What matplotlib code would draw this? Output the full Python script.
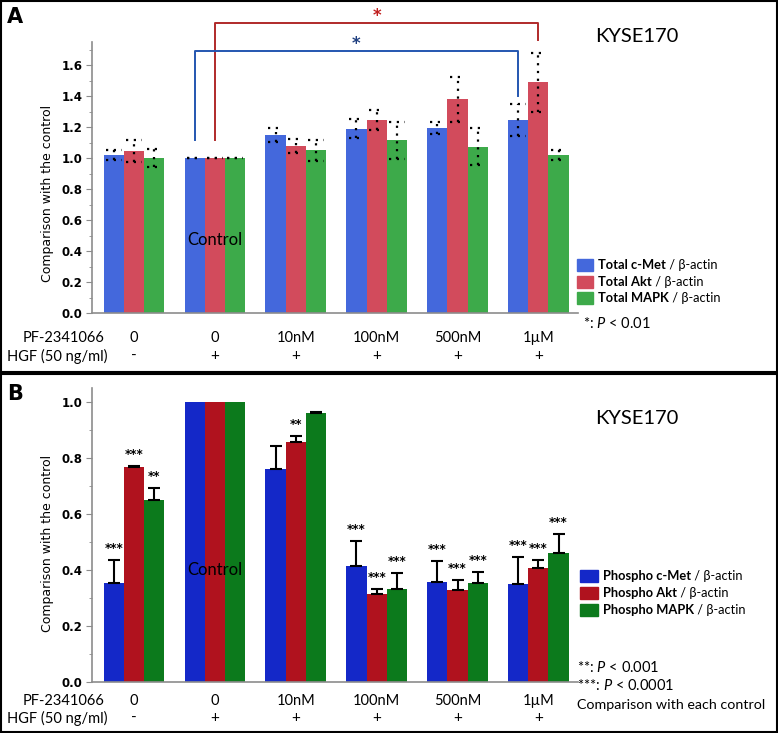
import numpy as np
import matplotlib.pyplot as plt
from matplotlib.patches import Rectangle
from matplotlib.text import Annotation
from matplotlib.ticker import MultipleLocator

plt.rcParams['mathtext.fontset'] = 'custom'
plt.rcParams['mathtext.rm'] = 'Lato'
plt.rcParams['mathtext.it'] = 'Lato:italic'
plt.rcParams['mathtext.bf'] = 'Lato:bold'

# Data
drug = ['0', '0', '10nM', '100nM', '500nM', '1\u00b5M']
hgf = ['-', '+', '+', '+', '+', '+']

# Panel A: total protein / beta-actin (mean, symmetric error)
tot_met = [1.02, 1.00, 1.15, 1.19, 1.195, 1.245]
tot_met_err = [0.03, 0.0, 0.045, 0.063, 0.04, 0.105]
tot_akt = [1.045, 1.00, 1.08, 1.245, 1.38, 1.49]
tot_akt_err = [0.07, 0.0, 0.045, 0.065, 0.145, 0.19]
tot_mapk = [1.00, 1.00, 1.05, 1.116, 1.075, 1.02]
tot_mapk_err = [0.06, 0.0, 0.07, 0.12, 0.12, 0.03]

# Panel B: phospho protein / beta-actin (mean, upper error)
ph_met = [0.354, 1.00, 0.76, 0.414, 0.357, 0.35]
ph_met_err = [0.082, 0.0, 0.083, 0.089, 0.075, 0.096]
ph_akt = [0.767, 1.00, 0.857, 0.314, 0.328, 0.407]
ph_akt_err = [0.005, 0.0, 0.02, 0.018, 0.036, 0.029]
ph_mapk = [0.65, 1.00, 0.96, 0.332, 0.354, 0.46]
ph_mapk_err = [0.042, 0.0, 0.006, 0.057, 0.039, 0.07]
ph_met_sig = ['***', '', '', '***', '***', '***']
ph_akt_sig = ['***', '', '**', '***', '***', '***']
ph_mapk_sig = ['**', '', '', '***', '***', '***']

W, H = 778, 733
fig = plt.figure(figsize=(W / 100, H / 100), dpi=100)


def fx(x):
    return x / W


def fy(y):
    return 1 - y / H


CAL = ['Lato', 'DejaVu Sans']
x = np.arange(len(drug))
w = 0.25

colA = ['#4468DC', '#D24B5C', '#3DAA4A']
colB = ['#1428C8', '#B0121E', '#0C7A1C']


def style_axes(ax, ymax, label_y):
    ax.set_xlim(-0.52, 5.49)
    ax.set_ylim(0, ymax)
    for s in ['top', 'right']:
        ax.spines[s].set_visible(False)
    for s in ['left', 'bottom']:
        ax.spines[s].set_color('#8c8c8c')
        ax.spines[s].set_linewidth(1.2)
    ax.set_xticks([])
    ax.yaxis.set_major_locator(MultipleLocator(0.2))
    ax.yaxis.set_minor_locator(MultipleLocator(0.1))
    ax.tick_params(axis='y', which='major', length=4, color='#8c8c8c', labelsize=8.5, pad=3)
    ax.tick_params(axis='y', which='minor', length=2, color='#8c8c8c')
    for t in ax.get_yticklabels():
        t.set_fontweight('bold')
    ax.set_ylabel('Comparison with the control', fontsize=9)
    ax.yaxis.set_label_coords(-0.079, label_y)


def cat_labels(ax, off1, off2):
    for i in x:
        ax.annotate(drug[i], xy=(i, 0), xycoords=('data', 'axes fraction'),
                    xytext=(0, -off1), textcoords='offset pixels',
                    ha='center', va='center', fontsize=10.5, family=CAL)
        ax.annotate(hgf[i], xy=(i, 0), xycoords=('data', 'axes fraction'),
                    xytext=(0, -off2), textcoords='offset pixels',
                    ha='center', va='center', fontsize=11, family=CAL)
    ax.annotate('PF-2341066', xy=(-0.37, 0), xycoords=('data', 'axes fraction'),
                xytext=(0, -off1), textcoords='offset pixels',
                ha='right', va='center', fontsize=10.5, family=CAL)
    ax.annotate('HGF (50 ng/ml)', xy=(-0.33, 0), xycoords=('data', 'axes fraction'),
                xytext=(0, -off2), textcoords='offset pixels',
                ha='right', va='center', fontsize=10.5, family=CAL)


def legend(names, cols, x0, y0, dy, pw):
    # bold protein name followed by a normal-weight " / β-actin"
    for k, name in enumerate(names):
        yy = y0 + k * dy
        fig.add_artist(Rectangle((fx(x0), fy(yy + 6)), pw / W, 12 / H,
                                 transform=fig.transFigure, color=cols[k]))
        t = fig.text(fx(x0 + pw + 5), fy(yy), name, fontsize=9.3, fontweight='bold',
                     family=CAL, va='center')
        fig.add_artist(Annotation(' / \u03b2-actin', xy=(1, 0.5), xycoords=t,
                                  va='center', ha='left', fontsize=9.3, family=CAL))


# ---------------- Panel A ----------------
axA = fig.add_axes([fx(92), fy(313), fx(578) - fx(92), fy(42) - fy(313)])
seriesA = [(tot_met, tot_met_err), (tot_akt, tot_akt_err), (tot_mapk, tot_mapk_err)]
dots = (0, (1, 2.5))
for k, (v, e) in enumerate(seriesA):
    xs = x + (k - 1) * w
    v = np.array(v)
    e = np.array(e)
    axA.bar(xs, v, w, color=colA[k], zorder=2)
    axA.vlines(xs, v - e, v + e, colors='k', linestyles=dots, lw=1.6, zorder=3)
    axA.hlines(v + e, xs - w * 0.38, xs + w * 0.38, colors='k', linestyles=dots, lw=1.6, zorder=3)
    axA.hlines(v - e, xs - w * 0.38, xs + w * 0.38, colors='k', linestyles=dots, lw=1.6, zorder=3)
style_axes(axA, 1.75, 0.44)
cat_labels(axA, 25, 43)
axA.text(1, 0.47, 'Control', ha='center', va='center', fontsize=12, family=CAL)

# significance brackets
axA.plot([1.0, 1.0, 5.0, 5.0], [1.116, 1.87, 1.87, 1.76], color='#B02A2A', lw=1.4, clip_on=False)
axA.text(3.0, 1.915, '*', color='#C02020', ha='center', va='center', fontsize=12, fontweight='bold')
axA.plot([0.75, 0.75, 4.75, 4.75], [1.116, 1.69, 1.69, 1.40], color='#2456B0', lw=1.4, clip_on=False)
axA.text(2.75, 1.735, '*', color='#1F3F80', ha='center', va='center', fontsize=12, fontweight='bold')

fig.text(fx(595), fy(37), 'KYSE170', fontsize=14.5, family=CAL, va='center')
fig.text(fx(15), fy(17), 'A', fontsize=15, fontweight='bold', ha='center', va='center')
legend(['Total c-Met', 'Total Akt', 'Total MAPK'], colA, 577, 265, 16.5, 16)
fig.text(fx(583), fy(323), '*: $P$ < 0.01', fontsize=10.5, family=CAL, va='center')

# ---------------- Panel B ----------------
axB = fig.add_axes([fx(92), fy(682), fx(578) - fx(92), fy(388) - fy(682)])
seriesB = [(ph_met, ph_met_err, ph_met_sig), (ph_akt, ph_akt_err, ph_akt_sig),
           (ph_mapk, ph_mapk_err, ph_mapk_sig)]
for k, (v, e, sig) in enumerate(seriesB):
    xs = x + (k - 1) * w
    v = np.array(v)
    e = np.array(e)
    axB.bar(xs, v, w, color=colB[k], zorder=2)
    m = e > 0
    axB.errorbar(xs[m], v[m], yerr=[np.zeros(m.sum()), e[m]], fmt='none', ecolor='k',
                 elinewidth=1.5, capsize=4.5, capthick=1.5, zorder=3)
    for i in x:
        if sig[i]:
            axB.annotate(sig[i], xy=(xs[i], v[i] + e[i]), xytext=(0, 5), textcoords='offset pixels',
                         ha='center', va='bottom', fontsize=8.5, fontweight='bold')
style_axes(axB, 1.05, 0.47)
cat_labels(axB, 19, 36)
axB.text(1, 0.40, 'Control', ha='center', va='center', fontsize=12, family=CAL)

fig.text(fx(595), fy(418), 'KYSE170', fontsize=14.5, family=CAL, va='center')
fig.text(fx(15), fy(394), 'B', fontsize=15, fontweight='bold', ha='center', va='center')
legend(['Phospho c-Met', 'Phospho Akt', 'Phospho MAPK'], colB, 580, 576, 17, 18)
fig.text(fx(577), fy(667), '**: $P$ < 0.001', fontsize=10.5, family=CAL, va='center')
fig.text(fx(577), fy(686), '***: $P$ < 0.0001', fontsize=10.5, family=CAL, va='center')
fig.text(fx(577), fy(705), 'Comparison with each control', fontsize=10.3, family=CAL, va='center')

# panel frames
fig.add_artist(Rectangle((fx(1), fy(372)), fx(776), 371 / H, transform=fig.transFigure,
                         fill=False, ec='k', lw=1.5))
fig.add_artist(Rectangle((fx(1), fy(732)), fx(776), 358 / H, transform=fig.transFigure,
                         fill=False, ec='k', lw=1.5))

fig.savefig('out.png', dpi=100)
